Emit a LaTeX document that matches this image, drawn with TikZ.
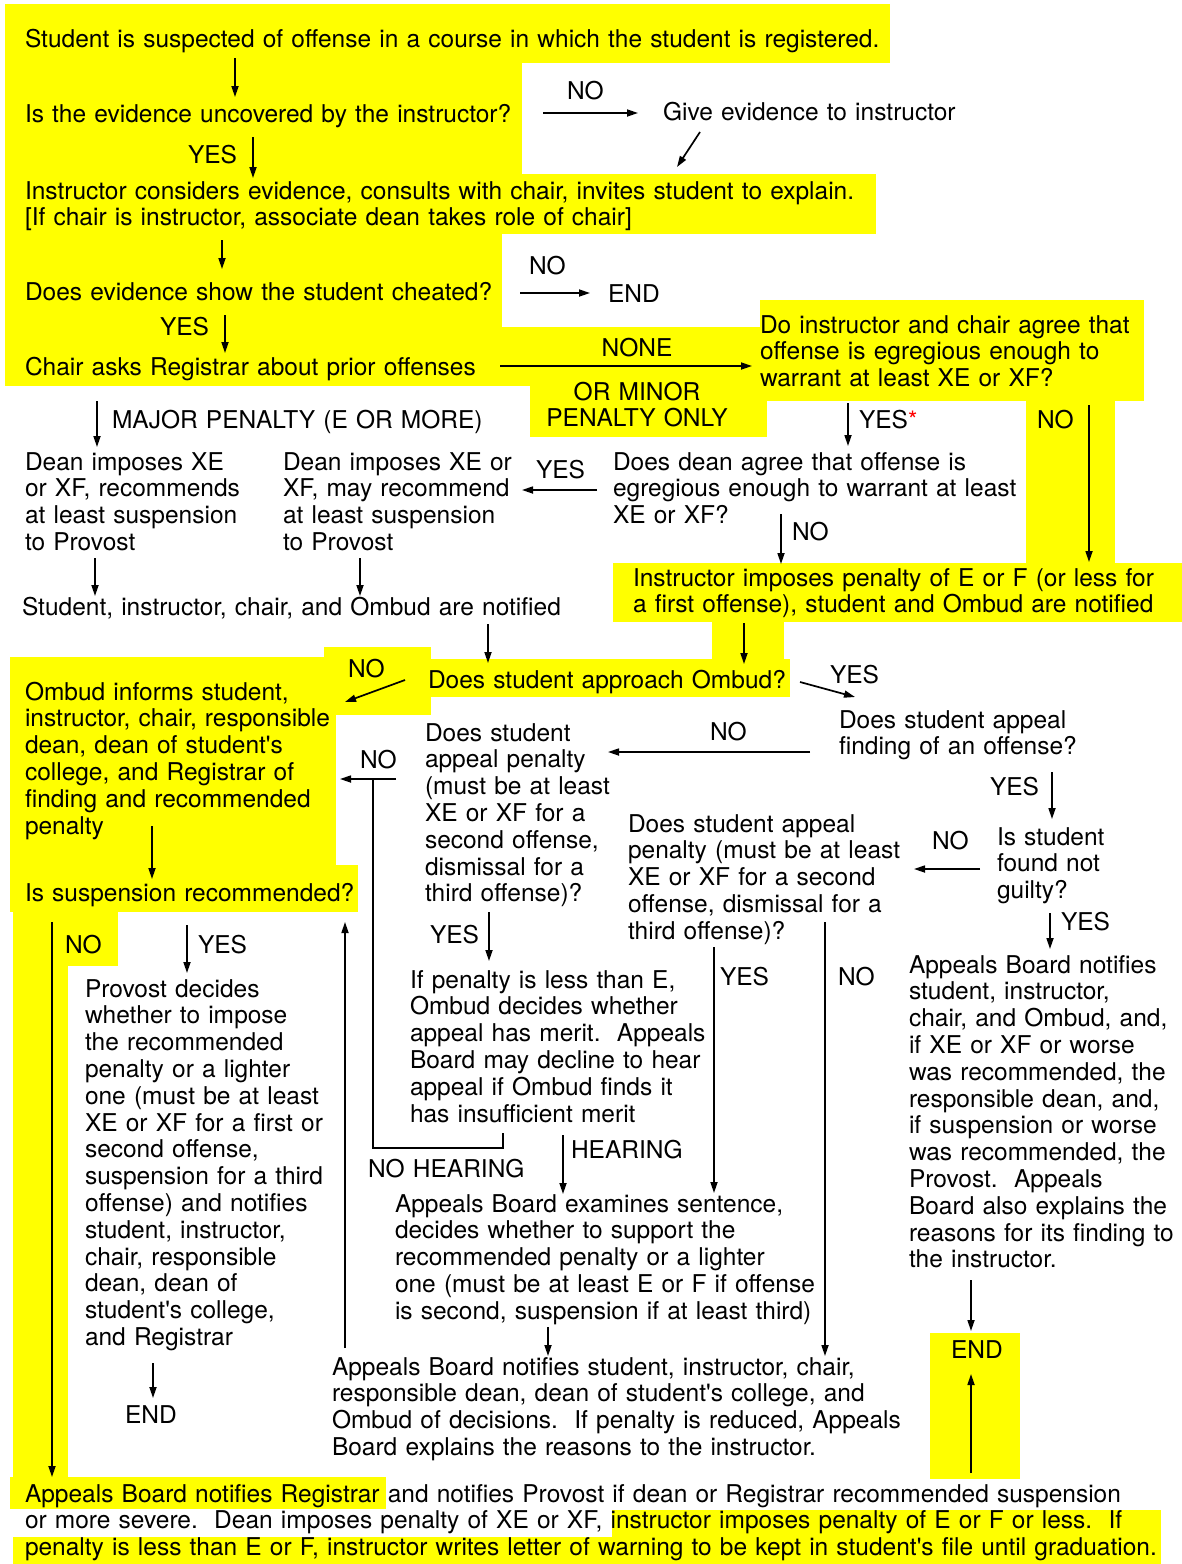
\documentclass[tikz,border=0pt]{standalone}
\usepackage{fontspec}
\setmainfont{TeX Gyre Heros}[Ligatures=TeXOff]
\usetikzlibrary{arrows.meta}
\definecolor{hl}{RGB}{255,255,0}
\begin{document}
\begin{tikzpicture}[x=1pt,y=-1pt,
  txt/.style={anchor=base west,inner sep=0pt,outer sep=0pt,align=left,text width=1400pt,font=\fontsize{24.5}{26.8}\selectfont},
  ctxt/.style={anchor=base,inner sep=0pt,outer sep=0pt,align=center,text width=300pt,font=\fontsize{24.5}{26.8}\selectfont},
  arr/.style={line width=1.7pt,-{Triangle[length=11pt,width=7pt]}},
  ln/.style={line width=1.7pt},
  hlbox/.style={fill=hl,draw=none}]
\useasboundingbox[fill=white] (0,0) rectangle (1182,1564);
% ---------- yellow highlights ----------
\fill[hl] (5,4) rectangle (890,63);
\fill[hl] (5,62) rectangle (522,175);
\fill[hl] (5,174) rectangle (876,234);
\fill[hl] (5,233) rectangle (502,328);
\fill[hl] (5,327) rectangle (760,386);
\fill[hl] (530,385) rectangle (767,437);
\fill[hl] (760,300) rectangle (1144,401);
\fill[hl] (1026,400) rectangle (1115,564);
\fill[hl] (613,563) rectangle (1182,622);
\fill[hl] (712,621) rectangle (784,660);
\fill[hl] (430,659) rectangle (790,697);
\fill[hl] (324,647) rectangle (431,715);
\fill[hl] (10,657) rectangle (336,866);
\fill[hl] (10,865) rectangle (358,912);
\fill[hl] (13,911) rectangle (118,966);
\fill[hl] (13,965) rectangle (68,1478);
\fill[hl] (10,1477) rectangle (386,1509);
\fill[hl] (612,1510) rectangle (1161,1538);
\fill[hl] (13,1537) rectangle (1161,1564);
\fill[hl] (930,1333) rectangle (1020,1479);
% ---------- texts ----------
\node[txt] (start) at (25,47) {Student is suspected of offense in a course in which the student is registered.};
\node[txt] (q1) at (25,122) {Is the evidence uncovered by the instructor?};
\node[txt] (lno1) at (567,99) {NO};
\node[txt] (give) at (663,120) {Give evidence to instructor};
\node[txt] (lyes1) at (188,163) {YES};
\node[txt] (consider) at (25,199) {Instructor considers evidence, consults with chair, invites student to explain.\\{}[If chair is instructor, associate dean takes role of chair]};
\node[txt] (q2) at (25,300) {Does evidence show the student cheated?};
\node[txt] (lno2) at (529,274) {NO};
\node[txt] (end1) at (608,302) {END};
\node[txt] (lyes2) at (160,335) {YES};
\node[txt] (chair) at (25,375) {Chair asks Registrar about prior offenses};
\node[ctxt] (lnone) at (637,356) {NONE};
\node[ctxt] (lminor) at (637,400) {OR MINOR\\PENALTY ONLY};
\node[txt] (agree) at (760,333) {Do instructor and chair agree that\\offense is egregious enough to\\warrant at least XE or XF?};
\node[txt] (lmajor) at (112,428) {MAJOR PENALTY (E OR MORE)};
\node[txt] (lyes3) at (859,428) {YES{\color{red}\fontsize{24}{24}\selectfont*}};
\node[txt] (lno3) at (1037,428) {NO};
\node[txt] (deanA) at (25,470) {Dean imposes XE\\or XF, recommends\\at least suspension\\to Provost};
\node[txt] (deanB) at (283,470) {Dean imposes XE or\\XF, may recommend\\at least suspension\\to Provost};
\node[txt] (lyes4) at (536,478) {YES};
\node[txt] (deanq) at (613,470) {Does dean agree that offense is\\egregious enough to warrant at least\\XE or XF?};
\node[txt] (lno4) at (792,540) {NO};
\node[txt] (notified) at (22,615) {Student, instructor, chair, and Ombud are notified};
\node[txt] (instimp) at (633,586) {Instructor imposes penalty of E or F (or less for\\a first offense), student and Ombud are notified};
\node[txt] (approach) at (428,688) {Does student approach Ombud?};
\node[txt] (lno5) at (348,677) {NO};
\node[txt] (lyes5) at (830,683) {YES};
\node[txt] (ombudinf) at (25,700) {Ombud informs student,\\instructor, chair, responsible\\dean, dean of student's\\college, and Registrar of\\finding and recommended\\penalty};
\node[txt] (appfind) at (839,728) {Does student appeal\\finding of an offense?};
\node[txt] (lno6) at (710,740) {NO};
\node[txt] (apppen1) at (425,741) {Does student\\appeal penalty\\(must be at least\\XE or XF for a\\second offense,\\dismissal for a\\third offense)?};
\node[txt] (lno7) at (360,768) {NO};
\node[txt] (lyes6) at (990,795) {YES};
\node[txt] (notguilty) at (997,845) {Is student\\found not\\guilty?};
\node[txt] (lno8) at (932,849) {NO};
\node[txt] (apppen2) at (628,832) {Does student appeal\\penalty (must be at least\\XE or XF for a second\\offense, dismissal for a\\third offense)?};
\node[txt] (suspq) at (25,901) {Is suspension recommended?};
\node[txt] (lyes7) at (1061,930) {YES};
\node[txt] (lno9) at (65,953) {NO};
\node[txt] (lyes8) at (198,953) {YES};
\node[txt] (lyes9) at (430,943) {YES};
\node[txt] (abnot1) at (909,973) {Appeals Board notifies\\student, instructor,\\chair, and Ombud, and,\\if XE or XF or worse\\was recommended, the\\responsible dean, and,\\if suspension or worse\\was recommended, the\\Provost.\ \ Appeals\\Board also explains the\\reasons for its finding to\\the instructor.};
\node[txt] (lyes10) at (720,985) {YES};
\node[txt] (lno10) at (838,985) {NO};
\node[txt] (merit) at (410,988) {If penalty is less than E,\\Ombud decides whether\\appeal has merit.\ \ Appeals\\Board may decline to hear\\appeal if Ombud finds it\\has insufficient merit};
\node[txt] (provost) at (85,997) {Provost decides\\whether to impose\\the recommended\\penalty or a lighter\\one (must be at least\\XE or XF for a first or\\second offense,\\suspension for a third\\offense) and notifies\\student, instructor,\\chair, responsible\\dean, dean of\\student's college,\\and Registrar};
\node[txt] (lhear) at (571,1158) {HEARING};
\node[txt] (lnohear) at (368,1177) {NO HEARING};
\node[txt] (examine) at (395,1212) {Appeals Board examines sentence,\\decides whether to support the\\recommended penalty or a lighter\\one (must be at least E or F if offense\\is second, suspension if at least third)};
\node[txt] (end2) at (951,1358) {END};
\node[txt] (abnot2) at (332,1375) {Appeals Board notifies student, instructor, chair,\\responsible dean, dean of student's college, and\\Ombud of decisions.\ \ If penalty is reduced, Appeals\\Board explains the reasons to the instructor.};
\node[txt] (end3) at (125,1423) {END};
\node[txt] (final) at (25,1502) {Appeals Board notifies Registrar and notifies Provost if dean or Registrar recommended suspension\\or more severe.\ \ Dean imposes penalty of XE or XF, instructor imposes penalty of E or F or less.\ \ If\\penalty is less than E or F, instructor writes letter of warning to be kept in student's file until graduation.};
% ---------- connector end points ----------
\coordinate (a1s) at (235,58);   \coordinate (a1e) at (235,97);
\coordinate (a2s) at (543,113);  \coordinate (a2e) at (638,113);
\coordinate (a3s) at (700,132);  \coordinate (a3e) at (677,167);
\coordinate (a4s) at (253,137);  \coordinate (a4e) at (253,178);
\coordinate (a5s) at (222,240);  \coordinate (a5e) at (222,269);
\coordinate (a6s) at (520,293);  \coordinate (a6e) at (590,293);
\coordinate (a7s) at (225,315);  \coordinate (a7e) at (225,353);
\coordinate (a8s) at (500,366);  \coordinate (a8e) at (752,366);
\coordinate (a9s) at (97,401);   \coordinate (a9e) at (97,447);
\coordinate (a10s) at (848,403); \coordinate (a10e) at (848,446);
\coordinate (a11s) at (1089,405);\coordinate (a11e) at (1089,562);
\coordinate (a12s) at (597,490); \coordinate (a12e) at (522,490);
\coordinate (a13s) at (781,514); \coordinate (a13e) at (781,564);
\coordinate (a14s) at (95,558);  \coordinate (a14e) at (95,596);
\coordinate (a15s) at (360,558); \coordinate (a15e) at (360,596);
\coordinate (a16s) at (488,624); \coordinate (a16e) at (488,663);
\coordinate (a17s) at (744,623); \coordinate (a17e) at (744,664);
\coordinate (a18s) at (405,680); \coordinate (a18e) at (345,702);
\coordinate (a19s) at (800,682); \coordinate (a19e) at (855,697);
\coordinate (a20s) at (810,752); \coordinate (a20e) at (608,752);
\coordinate (a21s) at (1052,772);\coordinate (a21e) at (1052,819);
\coordinate (a22s) at (980,869); \coordinate (a22e) at (914,869);
\coordinate (a23s) at (1050,913);\coordinate (a23e) at (1050,949);
\coordinate (a24s) at (396,779); \coordinate (a24e) at (340,779);
\coordinate (b1) at (503,1133);  \coordinate (b2) at (503,1148);
\coordinate (b3) at (373,1148);  \coordinate (b4) at (373,779);
\coordinate (a25s) at (152,826); \coordinate (a25e) at (152,879);
\coordinate (a26s) at (52,922);  \coordinate (a26e) at (52,1477);
\coordinate (a27s) at (187,925); \coordinate (a27e) at (187,973);
\coordinate (a28s) at (345,1348);\coordinate (a28e) at (345,922);
\coordinate (a29s) at (489,912); \coordinate (a29e) at (489,961);
\coordinate (a30s) at (563,1135);\coordinate (a30e) at (563,1194);
\coordinate (a31s) at (714,947); \coordinate (a31e) at (714,1193);
\coordinate (a32s) at (825,922); \coordinate (a32e) at (825,1356);
\coordinate (a33s) at (548,1327);\coordinate (a33e) at (548,1356);
\coordinate (a34s) at (153,1363);\coordinate (a34e) at (153,1398);
\coordinate (a35s) at (971,1280);\coordinate (a35e) at (971,1331);
\coordinate (a36s) at (971,1473);\coordinate (a36e) at (971,1374);
% ---------- connectors ----------
\foreach \i in {1,...,36}{\ifnum\i=24\else\draw[arr] (a\i s) -- (a\i e);\fi}
\draw[arr] (a24s) -- (a24e);
\draw[ln] (b1) -- (b2) -- (b3) -- (b4);
\end{tikzpicture}
\end{document}
